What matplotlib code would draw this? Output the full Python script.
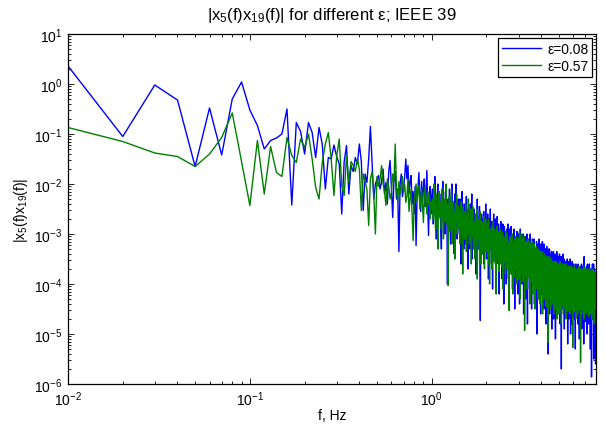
import numpy as np
import matplotlib
matplotlib.use('Agg')
import matplotlib.pyplot as plt
from matplotlib.ticker import LogLocator, NullFormatter

# log10 of |x5(f) x19(f)|, one value per 0.01 Hz bin starting at 0.01 Hz
blue_log = [
    0.36, -1.05, -0.02, -0.32, -1.65, -0.48, -1.42, -0.30, 0.04, -0.52,
    -0.83, -1.30, -1.13, -1.08, -1.00, -0.50, -2.42, -0.77, -0.95, -1.40,
    -0.77, -0.97, -1.47, -0.87, -1.20, -2.10, -1.47, -1.50, -1.22, -1.45,
    -1.60, -2.60, -1.55, -1.23, -2.20, -1.63, -1.75, -1.47, -1.60, -1.20,
    -1.55, -2.53, -1.80, -1.97, -1.50, -0.85, -1.60, -2.30, -2.00, -1.90,
    -1.83, -2.10, -1.95, -1.70, -2.20, -1.97, -2.40, -1.75, -1.53, -2.05,
    -2.67, -1.90, -1.75, -2.30, -2.10, -3.35, -2.00, -1.80, -2.25, -2.10,
    -1.85, -1.50, -1.90, -1.63, -2.20, -1.95, -1.83, -2.40, -2.15, -2.60,
    -2.05, -3.23, -2.30, -2.10, -1.77, -2.20, -2.55, -1.95, -2.35, -2.10,
    -1.90, -2.45, -2.20, -1.73, -2.40, -3.03, -2.30, -2.05, -2.60, -2.25,
    -2.1, -2.8, -2.4, -1.85, -2.6, -3.1, -2.3, -2.0, -2.7, -2.45,
    -2.2, -2.9, -3.3, -2.4, -1.95, -2.6, -2.35, -3.0, -2.15, -2.7,
    -2.5, -4.0, -2.3, -2.8, -2.1, -2.65, -3.2, -2.4, -2.0, -2.9,
    -2.45, -2.75, -3.4, -2.2, -2.6, -2.0, -2.9, -3.1, -2.5, -2.3,
    -2.6, -3.0, -2.3, -2.85, -3.6, -2.5, -2.15, -2.95, -2.7, -3.3,
    -2.4, -2.9, -3.2, -2.6, -2.25, -3.0, -2.75, -3.7, -2.5, -2.85,
    -2.6, -3.3, -2.4, -3.0, -2.7, -2.2, -3.5, -2.9, -2.65, -3.1,
    -2.5, -3.2, -2.75, -3.0, -3.8, -2.6, -2.95, -2.3, -3.15, -2.8,
    -3.3, -2.7, -2.45, -3.1, -4.73, -2.9, -3.0, -2.6, -3.4, -2.85,
    -2.7, -3.25, -2.55, -3.6, -3.0, -2.8, -3.3, -2.4, -3.05, -3.5,
    -2.8, -3.4, -2.6, -3.1, -3.9, -2.9, -2.7, -3.3, -3.0, -2.5,
    -3.3, -2.9, -3.6, -2.75, -3.15, -4.1, -2.85, -3.0, -2.6, -3.4,
    -2.9, -3.5, -3.1, -2.7, -3.3, -3.8, -2.95, -3.2, -2.65, -3.45,
    -3.0, -3.6, -2.8, -3.35, -4.2, -3.05, -2.9, -3.4, -3.15, -2.75,
    -3.5, -2.9, -3.3, -3.9, -3.1, -2.8, -3.45, -3.2, -4.4, -3.0,
    -2.85, -3.4, -3.1, -3.7, -2.95, -3.3, -4.0, -3.2, -2.9, -3.5,
    -3.2, -2.8, -3.6, -3.3, -4.3, -3.0, -3.45, -2.9, -3.7, -3.25,
    -3.05, -3.5, -2.85, -3.4, -3.8, -3.2, -3.0, -4.1, -3.35, -3.1,
    -3.6, -3.1, -2.9, -3.5, -3.3, -4.5, -3.2, -3.05, -3.7, -3.35,
    -3.15, -3.8, -3.4, -2.95, -3.55, -3.2, -4.2, -3.45, -3.0, -3.6,
    -3.3, -3.0, -3.7, -4.4, -3.25, -3.5, -2.9, -3.6, -3.4, -3.1,
    -3.6, -3.2, -3.45, -4.0, -3.1, -3.8, -3.35, -3.0, -3.55, -4.6,
    -3.3, -3.7, -3.1, -3.5, -3.9, -3.2, -3.05, -3.6, -4.3, -3.4,
    -3.2, -3.55, -3.85, -3.0, -3.45, -4.8, -3.3, -3.6, -3.15, -3.7,
    -3.4, -3.1, -3.75, -3.5, -4.1, -3.25, -3.6, -3.0, -3.9, -3.45,
    -3.3, -3.8, -3.5, -4.5, -3.2, -3.65, -3.4, -3.1, -3.7, -4.0,
    -3.5, -3.2, -3.9, -3.45, -3.75, -3.1, -4.4, -3.6, -3.35, -3.8,
    -3.4, -3.7, -4.2, -3.3, -3.55, -3.9, -3.15, -3.65, -5.0, -3.5,
    -3.3, -3.8, -3.5, -3.95, -3.2, -3.7, -4.3, -3.45, -3.6, -3.1,
    -3.75, -3.4, -4.1, -3.6, -3.3, -3.85, -4.6, -3.5, -3.2, -3.7,
    -3.5, -3.9, -3.3, -4.2, -3.6, -3.15, -3.8, -4.4, -3.45, -3.7,
    -3.4, -3.95, -3.6, -3.2, -4.5, -3.75, -3.5, -3.9, -3.3, -4.1,
    -3.65, -3.3, -4.0, -3.55, -4.8, -3.4, -3.85, -3.6, -3.25, -4.2,
    -3.5, -3.9, -3.35, -4.3, -3.7, -3.45, -5.4, -3.8, -3.6, -3.3,
    -4.0, -3.55, -3.8, -3.3, -4.6, -3.7, -3.45, -3.95, -3.6, -4.25,
    -3.5, -3.85, -3.4, -4.1, -3.7, -3.35, -4.9, -3.6, -3.9, -3.55,
    -3.7, -4.3, -3.45, -3.9, -3.6, -4.0, -3.35, -4.7, -3.75, -3.5,
    -3.6, -3.95, -4.4, -3.5, -3.8, -3.4, -4.1, -3.7, -5.1, -3.65,
    -3.45, -3.9, -3.7, -4.2, -3.55, -4.0, -3.35, -3.85, -4.5, -3.6,
    -3.8, -3.5, -4.15, -3.7, -4.6, -3.9, -3.45, -4.0, -3.65, -4.3,
    -3.6, -4.1, -3.75, -3.4, -4.4, -3.9, -3.55, -4.8, -3.7, -3.95,
    -4.2, -3.6, -3.85, -3.45, -4.0, -5.7, -3.75, -3.55, -4.3, -3.8,
    -3.65, -4.1, -3.5, -3.95, -4.5, -3.7, -3.85, -3.4, -4.2, -3.9,
    -4.0, -3.6, -4.35, -3.8, -3.5, -4.9, -3.9, -3.7, -4.1, -3.55,
    -3.75, -4.2, -3.9, -3.55, -4.6, -3.85, -4.05, -3.6, -4.4, -3.8,
    -3.7, -4.0, -4.5, -3.65, -3.9, -3.5, -4.25, -3.85, -5.2, -3.95,
    -3.6, -4.1, -3.8, -4.4, -3.7, -3.95, -4.7, -3.55, -4.0, -3.85,
    -4.2, -3.75, -3.6, -4.5, -3.9, -4.05, -3.5, -4.3, -3.8, -5.0,
    -3.7, -4.0, -3.85, -4.4, -3.6, -4.15, -3.95, -4.8, -3.75, -4.1,
    -3.9, -3.55, -4.3, -3.8, -4.6, -4.0, -3.7, -4.2, -3.85, -4.45,
    -3.8, -4.2, -3.6, -4.0, -4.7, -3.9, -3.75, -4.35, -4.05, -3.65,
    -4.1, -3.85, -4.5, -3.7, -3.95, -5.3, -3.8, -4.2, -3.6, -4.0,
    -3.9, -4.3, -3.75, -4.1, -3.65, -4.6, -3.95, -3.8, -4.25, -4.0,
    -3.7, -4.15, -4.45, -3.85, -4.0, -3.6, -4.8, -3.95, -4.2, -3.8,
    -4.3, -3.9, -3.7, -4.55, -4.05, -3.85, -4.2, -5.1, -3.75, -4.0,
    -3.8, -4.25, -3.95, -3.65, -4.4, -4.1, -3.85, -4.7, -3.9, -4.15,
    -4.0, -3.7, -4.5, -3.9, -4.2, -3.6, -4.35, -3.95, -4.9, -3.85,
    -4.2, -3.9, -3.75, -4.4, -4.05, -3.65, -4.6, -3.95, -4.15, -3.8,
    -3.9, -4.3, -4.05, -3.7, -5.2, -4.0, -3.85, -4.25, -3.45, -4.5,
    -4.1, -3.8, -4.45, -3.95, -3.7, -4.3, -4.0, -4.75, -3.85, -4.2,
    -3.9, -4.35, -4.05, -3.75, -4.6, -4.15, -3.8, -4.25, -3.65, -4.0,
    -4.4, -3.95, -3.7, -4.2, -5.0, -3.85, -4.1, -3.6, -4.3, -4.0,
    -3.8, -4.25, -3.95, -4.55, -3.7, -4.1, -3.9, -4.8, -3.65, -4.2,
    -4.05, -3.75, -4.4, -3.9, -4.2, -3.6, -4.65, -4.0, -3.85, -4.3,
    -3.9, -4.35, -3.7, -4.1, -5.3, -3.95, -4.25, -3.8, -4.5, -4.0,
    -4.2, -3.85, -4.0, -4.6, -3.7, -5.86, -4.1, -3.9, -4.3, -3.75,
    -4.05, -4.4, -3.8, -4.15, -3.6, -4.7, -3.95, -4.25, -3.85, -4.5,
    -3.9, -4.2, -4.6, -3.75, -4.05, -3.6, -4.35, -5.5, -3.95, -4.1,
    -4.3, -3.85, -4.1, -3.7, -4.5, -3.95, -4.2, -3.8, -4.75, -4.0,
    -3.9, -4.4, -3.75, -4.15, -4.0, -5.6, -4.25, -3.85, -4.5, -4.1,
]

green_log = [
    -0.87, -1.15, -1.38, -1.45, -1.65, -1.40, -1.07, -0.58, -1.55, -2.43,
    -1.13, -2.20, -1.25, -1.77, -1.85, -1.07, -1.43, -1.57, -1.10, -1.27,
    -1.00, -1.50, -2.07, -2.30, -1.57, -1.20, -0.97, -1.50, -2.23, -1.45,
    -1.10, -2.03, -2.23, -1.43, -1.97, -1.55, -1.63, -1.75, -1.50, -1.70,
    -2.53, -1.80, -1.95, -2.10, -2.83, -1.90, -1.75, -2.20, -3.00, -1.85,
    -2.05, -1.90, -1.63, -2.00, -2.15, -2.43, -1.90, -2.05, -2.30, -2.17,
    -1.80, -1.95, -1.20, -2.10, -2.35, -1.95, -2.20, -2.05, -1.85, -2.15,
    -2.00, -2.37, -2.25, -1.90, -2.55, -2.30, -2.10, -2.60, -3.13, -2.40,
    -2.20, -2.00, -2.35, -2.15, -2.03, -2.50, -2.30, -2.10, -2.45, -2.77,
    -2.25, -2.05, -2.35, -2.60, -2.15, -2.40, -2.20, -2.70, -2.35, -2.50,
    -2.3, -2.7, -2.0, -2.55, -2.9, -2.2, -2.6, -3.3, -2.4, -2.15,
    -2.65, -2.35, -2.9, -2.1, -2.5, -3.1, -2.3, -2.75, -2.45, -2.0,
    -2.8, -2.4, -4.03, -2.6, -2.25, -2.95, -2.5, -2.1, -3.2, -2.7,
    -2.35, -2.9, -2.55, -3.5, -2.4, -2.75, -2.2, -3.0, -2.65, -2.45,
    -2.9, -2.5, -3.2, -2.7, -2.35, -3.0, -2.6, -3.8, -2.45, -2.8,
    -2.55, -3.1, -2.75, -2.4, -3.35, -2.9, -2.6, -3.0, -2.3, -2.85,
    -3.2, -2.7, -2.95, -2.5, -3.6, -2.8, -3.05, -2.45, -2.9, -3.3,
    -2.75, -3.0, -3.5, -2.6, -2.9, -3.2, -2.5, -3.9, -2.85, -3.05,
    -3.1, -2.7, -3.3, -2.95, -2.55, -3.6, -2.9, -3.15, -2.75, -3.4,
    -2.85, -3.2, -2.65, -3.0, -3.7, -2.9, -3.1, -2.7, -3.35, -3.0,
    -3.2, -2.8, -3.45, -3.0, -2.7, -3.6, -3.1, -4.0, -2.9, -3.25,
    -2.95, -3.3, -3.05, -3.7, -2.85, -3.2, -3.4, -2.75, -3.55, -3.1,
    -3.35, -2.9, -3.15, -3.6, -3.0, -4.2, -3.25, -2.85, -3.4, -3.1,
    -3.05, -3.5, -2.95, -3.3, -3.75, -3.1, -3.4, -2.9, -3.6, -3.2,
    -3.4, -3.0, -3.65, -3.2, -2.95, -3.5, -4.1, -3.3, -3.05, -3.45,
    -3.2, -3.55, -3.1, -3.8, -3.3, -2.95, -3.45, -3.2, -3.7, -3.0,
    -3.5, -3.15, -3.4, -3.9, -3.25, -4.53, -3.35, -3.05, -3.6, -3.3,
    -3.1, -3.45, -3.8, -3.2, -3.55, -3.0, -3.7, -3.35, -4.2, -3.25,
    -3.4, -3.15, -3.6, -3.3, -3.85, -3.1, -3.5, -3.25, -3.7, -3.05,
    -3.55, -3.2, -3.45, -4.0, -3.3, -3.65, -3.1, -3.5, -3.35, -3.9,
    -3.1, -3.45, -3.25, -2.95, -3.75, -3.2, -4.3, -3.35, -3.05, -3.5,
    -3.3, -3.0, -3.8, -3.25, -3.45, -3.1, -3.95, -3.35, -3.15, -3.55,
    -3.2, -3.45, -3.05, -4.93, -3.35, -3.75, -3.15, -3.4, -3.25, -3.85,
    -3.45, -3.15, -3.55, -3.3, -4.1, -3.35, -3.1, -3.8, -3.4, -3.25,
    -3.55, -3.25, -3.4, -3.9, -3.15, -3.5, -4.4, -3.35, -3.6, -3.2,
    -3.35, -3.8, -3.25, -3.45, -3.95, -3.3, -3.55, -3.15, -4.2, -3.4,
    -3.6, -3.3, -3.9, -3.4, -3.2, -4.0, -3.45, -3.8, -3.35, -4.5,
    -3.4, -3.85, -3.35, -4.1, -3.5, -3.25, -3.9, -3.45, -3.6, -3.3,
    -3.65, -3.35, -4.3, -3.5, -3.9, -3.3, -3.55, -4.05, -3.4, -3.85,
    -3.45, -3.95, -3.35, -3.6, -4.4, -3.5, -3.85, -3.35, -4.0, -3.55,
    -3.7, -3.4, -4.1, -3.55, -3.95, -3.35, -4.6, -3.6, -3.45, -3.9,
    -3.5, -4.0, -3.6, -4.3, -3.45, -3.85, -3.4, -4.15, -3.65, -3.55,
    -3.9, -3.45, -4.05, -3.6, -4.45, -3.55, -3.95, -3.45, -3.7, -4.2,
    -3.55, -4.0, -3.65, -3.45, -5.17, -3.9, -3.6, -4.1, -3.5, -3.95,
    -3.65, -4.15, -3.55, -3.95, -3.45, -4.3, -3.7, -4.0, -3.55, -4.5,
    -3.9, -3.55, -4.2, -3.7, -3.5, -4.05, -3.65, -4.4, -3.6, -3.95,
    -4.1, -3.65, -3.95, -3.55, -4.3, -3.9, -3.6, -4.6, -3.7, -4.0,
    -3.6, -4.05, -3.7, -4.35, -3.55, -3.95, -4.1, -3.65, -4.5, -3.9,
    -4.0, -3.65, -4.25, -3.9, -3.55, -4.15, -3.7, -4.7, -3.95, -3.6,
    -3.7, -4.1, -3.9, -4.4, -3.6, -4.0, -3.65, -4.25, -3.95, -4.6,
    -3.95, -3.6, -4.2, -3.75, -4.05, -3.55, -4.5, -3.7, -4.1, -3.65,
    -3.85, -4.3, -3.7, -4.1, -3.6, -4.8, -3.95, -4.15, -3.65, -4.0,
    -3.7, -4.2, -3.95, -3.6, -4.4, -4.0, -3.65, -4.25, -3.75, -4.6,
    -4.1, -3.65, -3.85, -4.35, -3.7, -4.15, -3.6, -4.5, -3.95, -4.05,
    -3.75, -4.25, -3.65, -4.1, -3.85, -4.7, -3.7, -4.2, -3.95, -3.6,
    -4.15, -3.75, -4.4, -3.7, -4.05, -3.65, -4.3, -3.85, -3.9, -4.55,
    -3.8, -4.2, -3.7, -4.1, -4.45, -3.75, -4.05, -3.65, -4.3, -3.85,
    -4.1, -3.7, -4.25, -3.8, -3.95, -4.6, -3.75, -4.15, -3.65, -4.35,
    -3.85, -4.3, -3.75, -4.1, -3.7, -4.2, -4.05, -3.65, -4.5, -3.8,
    -4.2, -3.75, -4.05, -4.4, -3.7, -5.27, -3.85, -4.15, -3.75, -4.3,
    -3.8, -4.1, -4.35, -3.7, -4.2, -3.85, -3.75, -4.55, -4.05, -3.65,
    -4.25, -3.8, -4.1, -3.7, -4.4, -3.85, -4.2, -3.75, -4.7, -4.05,
    -3.75, -4.3, -4.05, -4.15, -3.7, -4.5, -3.8, -4.2, -3.85, -4.35,
    -4.1, -3.75, -4.25, -3.85, -4.6, -3.7, -4.15, -4.05, -3.8, -4.4,
    -3.85, -4.35, -3.75, -4.2, -4.05, -3.65, -4.5, -4.1, -3.8, -4.25,
    -4.15, -3.75, -4.3, -3.85, -4.45, -3.7, -4.2, -5.57, -4.05, -3.8,
    -4.2, -3.85, -3.7, -4.35, -4.1, -3.8, -4.6, -4.05, -3.75, -4.25,
    -3.8, -4.3, -4.1, -3.75, -4.5, -3.85, -4.2, -3.7, -4.4, -4.05,
    -4.1, -3.75, -4.25, -4.05, -3.65, -4.4, -3.85, -4.7, -3.8, -4.15,
    -4.3, -3.85, -3.7, -4.2, -4.1, -3.8, -4.55, -4.05, -4.25, -3.75,
    -4.05, -4.4, -3.8, -4.15, -3.7, -4.3, -4.1, -3.85, -4.6, -3.75,
    -4.2, -3.8, -4.35, -4.05, -4.1, -3.7, -4.5, -3.85, -4.25, -3.75,
    -4.1, -4.3, -3.75, -4.45, -3.85, -4.2, -3.7, -4.65, -4.05, -4.15,
    -3.8, -4.25, -4.1, -3.75, -4.4, -3.85, -4.2, -3.7, -4.5, -4.05,
    -4.3, -3.85, -4.15, -3.75, -4.6, -4.1, -3.8, -4.35, -4.05, -4.2,
    -3.75, -4.25, -4.05, -4.4, -3.8, -4.15, -3.85, -4.7, -3.7, -4.3,
    -4.1, -3.8, -4.35, -3.85, -4.2, -3.75, -4.55, -4.05, -4.25, -3.7,
    -4.2, -4.05, -3.75, -4.4, -4.1, -4.3, -3.8, -4.15, -4.8, -3.85,
    -3.8, -4.25, -4.1, -3.85, -4.45, -3.75, -4.2, -4.05, -4.35, -4.15,
    -4.1, -3.75, -4.3, -4.05, -4.5, -3.85, -4.2, -3.8, -4.4, -4.1,
]

labels = ['ε=0.08', 'ε=0.57']
df = 0.01  # frequency resolution, Hz

assert len(blue_log) == len(green_log) == 800

freq = np.arange(1, len(blue_log) + 1) * df
blue = np.power(10.0, np.array(blue_log))
green = np.power(10.0, np.array(green_log))

plt.rcParams['font.family'] = 'Liberation Sans'
plt.rcParams['font.size'] = 10
plt.rcParams['mathtext.fontset'] = 'custom'
plt.rcParams['mathtext.rm'] = 'Liberation Sans'
plt.rcParams['mathtext.it'] = 'Liberation Sans:italic'

fig = plt.figure(figsize=(6.05, 4.27), dpi=100)
ax = fig.add_axes([0.1124, 0.0984, 0.8727, 0.8196])

ax.loglog(freq, blue, color=(0, 0, 1), lw=1.0, label=labels[0])
ax.loglog(freq, green, color=(0, 0.5, 0), lw=1.0, label=labels[1])

ax.set_xlim(0.01, 8.0)
ax.set_ylim(1e-6, 1e1)

# matlab-like axes: inward ticks on all sides, one label per decade
ax.set_xticks(10.0 ** np.arange(-2, 1))
ax.set_yticks(10.0 ** np.arange(-6, 2))
for axis in (ax.xaxis, ax.yaxis):
    axis.set_minor_locator(LogLocator(base=10, subs=np.arange(2, 10), numticks=100))
    axis.set_minor_formatter(NullFormatter())
ax.set_xlim(0.01, 8.0)
ax.set_ylim(1e-6, 1e1)
ax.tick_params(which='both', direction='in', top=True, right=True, width=0.6)
ax.tick_params(which='major', length=4, pad=4)
ax.tick_params(which='minor', length=2)
for sp in ax.spines.values():
    sp.set_linewidth(0.9)

ax.set_title('|x$_5$(f)x$_{19}$(f)| for different ε; IEEE 39', pad=11)
ax.set_xlabel('f, Hz', labelpad=0)
ax.set_ylabel('|x$_5$(f)x$_{19}$(f)|', labelpad=3)

leg = ax.legend(loc='upper right', fancybox=False, framealpha=1,
                edgecolor='k', handlelength=2.8, handletextpad=0.45,
                borderaxespad=0.3, borderpad=0.25, labelspacing=0.25)
leg.get_frame().set_linewidth(0.9)

fig.savefig('out.png', dpi=100)
